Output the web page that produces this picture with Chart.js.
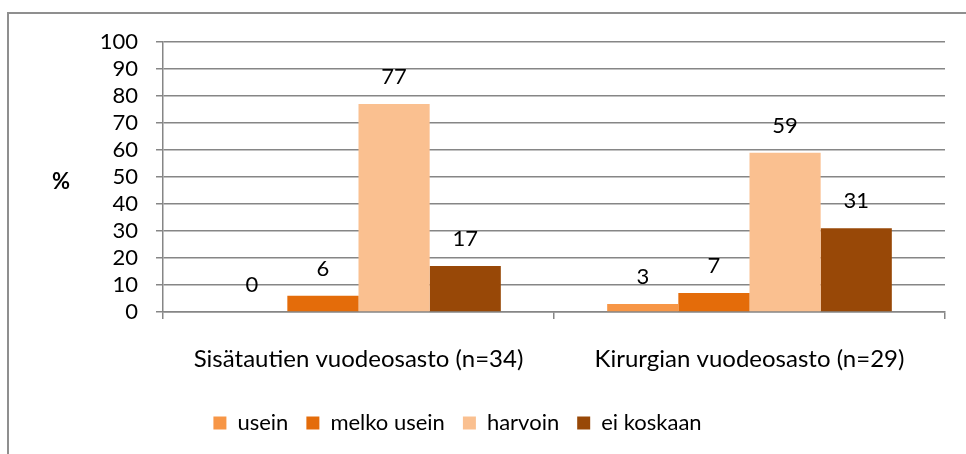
<!DOCTYPE html>
<html>
<head>
<meta charset="utf-8">
<script src="https://cdn.jsdelivr.net/npm/chart.js@4"></script>
<style>
    html, body { margin: 0; padding: 0; background: #fff; overflow: hidden; }
    #frame { position: absolute; left: 7px; top: 12px; width: 1100px; height: 600px;
             border-left: 2px solid #8f8f8f; border-top: 2px solid #8f8f8f; }
    #chart { position: absolute; left: 0; top: 0; }
</style>
</head>
<body>
<div id="frame"></div>
<canvas id="chart" width="966" height="454"></canvas>
<script>
// chart data
const categories = ['Sisätautien vuodeosasto (n=34)', 'Kirurgian vuodeosasto (n=29)'];
const seriesNames = ['usein', 'melko usein', 'harvoin', 'ei koskaan'];
const useinValues = [0, 3];
const melkoUseinValues = [6, 7];
const harvoinValues = [77, 59];
const eiKoskaanValues = [17, 31];
const seriesColors = ['#F79646', '#E46C0A', '#FAC090', '#984807'];
const yMin = 0;
const yMax = 100;
const yStep = 10;
const yAxisLabel = '%';

const FONT = 'Lato, "Open Sans", sans-serif';
const GRID = '#868686';

// value labels above each bar + the "%" label
const extrasPlugin = {
    id: 'extras',
    afterLayout(chart) {
        // move the legend to where Excel put it
        chart.legend.left -= 15;
        chart.legend.right -= 15;
        chart.legend.top -= 10;
        chart.legend.bottom -= 10;
    },
    afterDatasetsDraw(chart) {
        const ctx = chart.ctx;
        ctx.save();
        ctx.font = '22px ' + FONT;
        ctx.fillStyle = '#000';
        ctx.textAlign = 'center';
        ctx.textBaseline = 'middle';
        chart.data.datasets.forEach((ds, i) => {
            chart.getDatasetMeta(i).data.forEach((bar, j) => {
                ctx.fillText(String(ds.data[j]), bar.x, bar.y - 27);
            });
        });
        ctx.font = 'bold 22px ' + FONT;
        ctx.fillText(yAxisLabel, 61, 182);
        ctx.restore();
    }
};

const valueLists = [useinValues, melkoUseinValues, harvoinValues, eiKoskaanValues];

new Chart(document.getElementById('chart').getContext('2d'), {
    type: 'bar',
    data: {
        labels: categories,
        datasets: seriesNames.map((name, i) => ({
            label: name,
            data: valueLists[i],
            backgroundColor: seriesColors[i],
            borderWidth: 0,
            categoryPercentage: 0.728,
            barPercentage: 1.0
        }))
    },
    options: {
        responsive: false,
        animation: false,
        devicePixelRatio: 1,
        layout: { padding: { top: 42, right: 21, bottom: 0, left: 0 } },
        plugins: {
            legend: {
                position: 'bottom',
                labels: {
                    font: { family: FONT, size: 22 },
                    color: '#000',
                    boxWidth: 13,
                    boxHeight: 13,
                    padding: 18
                }
            },
            tooltip: { enabled: false }
        },
        scales: {
            x: {
                grid: { offset: true, drawOnChartArea: false, tickLength: 7, color: GRID, lineWidth: 1.5 },
                border: { color: GRID, width: 1.5 },
                ticks: { font: { family: FONT, size: 24 }, color: '#000', padding: 26, maxRotation: 0 },
                afterFit(scale) { scale.height = 92; }
            },
            y: {
                min: yMin,
                max: yMax,
                ticks: { stepSize: yStep, autoSkip: false, font: { family: FONT, size: 22 }, color: '#000', padding: 18 },
                grid: { color: GRID, lineWidth: 1.5, tickLength: 7 },
                border: { color: GRID, width: 1.5 },
                afterFit(scale) { scale.width = 163; }
            }
        }
    },
    plugins: [extrasPlugin]
});
</script>
</body>
</html>
